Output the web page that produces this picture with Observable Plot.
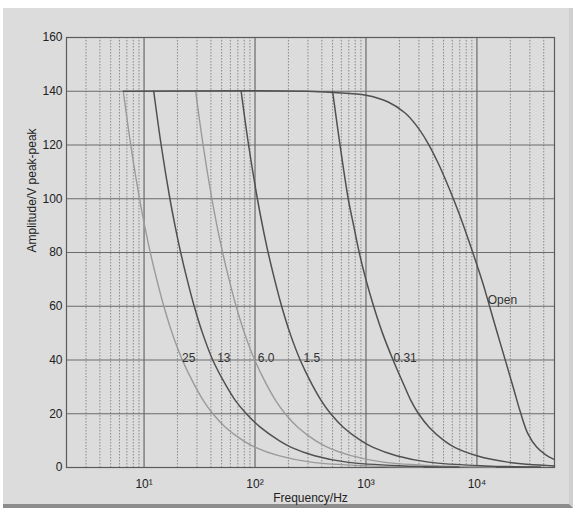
<!DOCTYPE html>
<html><head><meta charset="utf-8">
<script src="https://cdn.jsdelivr.net/npm/d3@7"></script>
<script src="https://cdn.jsdelivr.net/npm/@observablehq/plot@0.6"></script>
<style>
html,body{margin:0;padding:0;background:#fff;}
#wrap{position:relative;width:578px;height:515px;overflow:hidden;font-family:"Liberation Sans",Arial,sans-serif;}
#panel{position:absolute;left:3px;top:8px;width:566px;height:496px;background:#dcdcdc;border-bottom:4px solid #8c8c8c;border-right:4px solid #cfcfcf;}
#chart{position:absolute;left:0;top:0;}
</style></head><body><div id="wrap"><div id="panel"></div><div id="chart"></div></div>
<script>
// ---- data ----
const seriesNames = ["25", "13", "6.0", "1.5", "0.31", "Open"];

const amp   = [140, 120, 100, 90, 80, 70, 60, 50, 40, 31, 25, 20, 15, 10, 7.5, 4.4, 2, 0.6, 0.2];

const freq25 = [6.50, 7.59, 9.10, 10.12, 11.38, 13.00, 15.07, 17.91, 22.13, 28.18, 34.12, 41.69, 54.08, 78.16, 100.7, 163.3, 318.4, 1030, 3258];
const freq13 = [12.22, 14.26, 17.10, 19.01, 21.38, 24.43, 28.31, 33.65, 41.59, 53.95, 66.37, 83.56, 111.4, 164.8, 212.3, 344.4, 671.4, 2173, 6871];
const freq6  = [29.17, 34.04, 40.83, 45.39, 51.05, 58.34, 67.61, 80.35, 99.31, 126.5, 153.1, 187.1, 242.7, 350.8, 451.9, 732.8, 1429, 4624, 14620];
const freq15 = [74.99, 87.50, 105.0, 116.7, 131.2, 150.0, 173.8, 206.5, 255.3, 325.1, 393.6, 480.8, 623.7, 901.6, 1161, 1884, 3673, 11885, 37580];

const freq031 = [500, 583.4, 691.8, 774.5, 868.9, 997.7, 1172, 1409, 1754, 2183, 2535, 2979, 3707, 5058, 6295, 9977, 19010, 50000];
const amp031  = [140, 120, 100, 90, 80, 70, 60, 50, 40, 31, 25, 20, 15, 10, 7.5, 4.4, 2, 0.6];

const freqOpen = [6.5, 300, 513, 1000, 1585, 2239, 2818, 3548, 4467, 5623, 7079, 8913, 11220, 12590, 15140, 18200, 21380, 24550, 28840, 34670, 41690, 48980];
const ampOpen  = [140, 140, 139.5, 138.5, 136, 132, 127.5, 121.3, 113.3, 103.8, 93.3, 81.5, 69, 62, 50.5, 39.3, 29.4, 20.8, 12.5, 7.5, 4.7, 3.1];

const labelFreq = [22, 45.6, 106, 274, 1766, 12500];
const labelAmp  = [40, 40, 40, 40, 40, 61.5];

const yTicks = [0, 20, 40, 60, 80, 100, 120, 140, 160];
const xTicks = [10, 100, 1000, 10000];
const xTickLabels = ["10\u00B9", "10\u00B2", "10\u00B3", "10\u2074"];

// ---- build tables ----
const freqs = [freq25, freq13, freq6, freq15, freq031, freqOpen];
const amps  = [amp, amp, amp, amp, amp031, ampOpen];
const rows = [];
seriesNames.forEach((s, i) => freqs[i].forEach((f, j) => rows.push({series: s, f, v: amps[i][j]})));
const lightSet = new Set(["25", "6.0"]);
const lightRows = rows.filter(d => lightSet.has(d.series));
const darkRows = rows.filter(d => !lightSet.has(d.series));
const labels = seriesNames.map((s, i) => ({s, f: labelFreq[i], v: labelAmp[i]}));

const minor = [];
for (const dec of [1, 10, 100, 1000, 10000]) for (let m = 2; m <= 9; m++) {
  const v = m * dec; if (v > 2 && v < 50000) minor.push(v);
}

const chart = Plot.plot({
  width: 578, height: 515,
  marginLeft: 66, marginRight: 24, marginTop: 37, marginBottom: 48,
  style: {background: "transparent", fontFamily: "Liberation Sans, Arial, sans-serif", fontSize: "12px", color: "#222"},
  x: {type: "log", domain: [2, 50000]},
  y: {domain: [0, 160]},
  marks: [
    Plot.ruleX(minor, {stroke: "#8a8a8a", strokeDasharray: "1.5,1.5", strokeWidth: 1}),
    Plot.ruleX(xTicks, {stroke: "#6a6a6a", strokeWidth: 1.2}),
    Plot.ruleY(yTicks, {stroke: "#6a6a6a", strokeWidth: 1.2}),
    Plot.frame({stroke: "#5a5a5a", strokeWidth: 1.2}),
    Plot.line(lightRows, {x: "f", y: "v", z: "series", stroke: "#9a9a9a", strokeWidth: 1.4, curve: "catmull-rom"}),
    Plot.line(darkRows, {x: "f", y: "v", z: "series", stroke: "#505050", strokeWidth: 1.5, curve: "catmull-rom"}),
    Plot.text(labels, {x: "f", y: "v", text: "s", textAnchor: "start", lineAnchor: "bottom", dy: 2, fill: "#333", fontSize: 12}),
    Plot.axisX(xTicks, {tickSize: 0, tickPadding: 12, tickFormat: d => xTickLabels[xTicks.indexOf(d)], fontSize: 12, label: null}),
    Plot.axisY(yTicks, {tickSize: 0, tickPadding: 4, fontSize: 12, label: null}),
    Plot.text(["Frequency/Hz"], {frameAnchor: "bottom", dy: 34, fontSize: 12, fill: "#222"}),
    Plot.text(["Amplitude/V peak-peak"], {frameAnchor: "left", dx: -34, rotate: -90, fontSize: 12, fill: "#222"})
  ]
});
document.getElementById("chart").appendChild(chart);
</script></body></html>
